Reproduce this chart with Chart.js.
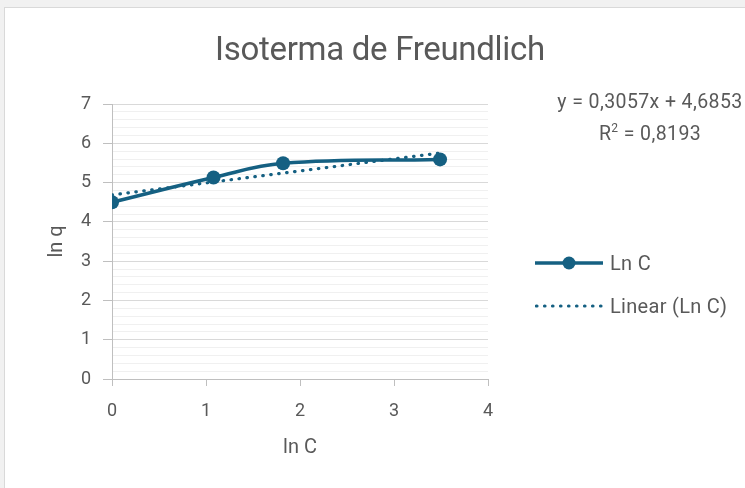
<!DOCTYPE html>
<html>
<head>
<meta charset="utf-8">
<script src="https://cdn.jsdelivr.net/npm/chart.js@4.4.1/dist/chart.umd.min.js"></script>
<style>
    body { margin: 0; background: #f1f1f1; width: 745px; height: 488px; overflow: hidden; position: relative; font-family: "Roboto", sans-serif; color: #595959; }
    #box { position: absolute; left: 4px; top: 7px; width: 760px; height: 500px; background: #fff; border: 1px solid #d9d9d9; }
    #wrap { position: absolute; left: 0; top: 0; width: 745px; height: 488px; }
    .txt { position: absolute; white-space: nowrap; }
    #title { left: 0; width: 760px; top: 29px; text-align: center; font-size: 33px; letter-spacing: -0.3px; }
    #eq { left: 550px; width: 200px; top: 88px; font-size: 19.5px; text-align: center; line-height: 27px; letter-spacing: 0.4px; }
    .leg { position: absolute; left: 535px; width: 210px; height: 24px; font-size: 20px; white-space: nowrap; }
    .leg svg { position: absolute; left: 0; top: 0; }
    .leg span { position: absolute; left: 75px; top: 0; line-height: 24px; letter-spacing: 0.3px; }
</style>
</head>
<body>
<div id="box"></div>
<div id="wrap"><canvas id="freundlich" width="745" height="488"></canvas></div>
<div class="txt" id="title">Isoterma de Freundlich</div>
<div class="txt" id="eq">y = 0,3057x + 4,6853<br>R<sup style="font-size:12px">2</sup> = 0,8193</div>
<div class="leg" style="top:251px">
    <svg width="70" height="24"><line x1="0" y1="12" x2="68" y2="12" stroke="#156082" stroke-width="3.5"/><circle cx="34" cy="12" r="6.5" fill="#156082"/></svg>
    <span>Ln C</span>
</div>
<div class="leg" style="top:294px">
    <svg width="70" height="24"><line x1="1.5" y1="12" x2="68" y2="12" stroke="#156082" stroke-width="3.2" stroke-linecap="round" stroke-dasharray="0.5 7.5"/></svg>
    <span>Linear (Ln C)</span>
</div>
<script>
    var lnC = [0, 1.08, 1.82, 3.49];
    var lnQ = [4.50, 5.13, 5.49, 5.59];
    var trendX = [0, 3.49];
    var trendY = [4.685, 5.752];
    var xTicks = [0, 1, 2, 3, 4];
    var yMax = 7;

    var blue = '#156082';
    var gray = '#595959';
    var tickFont = { family: 'Roboto', size: 18 };

    function isWhole(v) {
        return Math.abs(v - Math.round(v)) < 1e-6;
    }

    var points = lnC.map(function (x, i) { return { x: x, y: lnQ[i] }; });
    var trend = trendX.map(function (x, i) { return { x: x, y: trendY[i] }; });

    new Chart(document.getElementById('freundlich'), {
        type: 'scatter',
        data: {
            datasets: [{
                label: 'Ln C',
                data: points,
                showLine: true,
                tension: 0.4,
                borderColor: blue,
                backgroundColor: blue,
                borderWidth: 3.5,
                pointRadius: 7,
                pointBackgroundColor: blue,
                pointBorderWidth: 0,
                order: 1
            }, {
                label: 'Linear (Ln C)',
                data: trend,
                showLine: true,
                borderColor: blue,
                borderWidth: 3.2,
                borderDash: [0.5, 7.5],
                borderCapStyle: 'round',
                pointRadius: 0,
                order: 0
            }]
        },
        options: {
            responsive: false,
            animation: false,
            layout: { padding: { top: 104, right: 257, left: 0, bottom: 0 } },
            plugins: {
                legend: { display: false },
                tooltip: { enabled: false }
            },
            scales: {
                x: {
                    type: 'linear',
                    min: 0,
                    max: 4,
                    afterFit: function (scale) { scale.height = 109; },
                    afterBuildTicks: function (scale) {
                        scale.ticks = xTicks.map(function (v) { return { value: v }; });
                    },
                    ticks: { color: gray, font: tickFont, padding: 15 },
                    grid: { drawOnChartArea: false, color: '#bfbfbf', tickLength: 7, tickColor: '#bfbfbf' },
                    border: { color: '#bfbfbf', width: 1 },
                    title: {
                        display: true,
                        text: 'ln C',
                        color: gray,
                        font: { family: 'Roboto', size: 20 },
                        padding: { bottom: 28 }
                    }
                },
                y: {
                    type: 'linear',
                    min: 0,
                    max: yMax,
                    afterFit: function (scale) { scale.width = 112; },
                    ticks: {
                        stepSize: 0.2,
                        autoSkip: false,
                        color: gray,
                        font: tickFont,
                        padding: 12,
                        callback: function (v) { return isWhole(v) ? Math.round(v) : ''; }
                    },
                    grid: {
                        tickLength: 9,
                        color: function (ctx) {
                            return ctx.tick && isWhole(ctx.tick.value) ? '#d9d9d9' : '#f0f0f0';
                        },
                        tickColor: function (ctx) {
                            return ctx.tick && isWhole(ctx.tick.value) ? '#bfbfbf' : 'rgba(0,0,0,0)';
                        }
                    },
                    border: { color: '#bfbfbf', width: 1 },
                    title: {
                        display: true,
                        text: 'ln q',
                        color: gray,
                        font: { family: 'Roboto', size: 20 },
                        padding: { top: 45 }
                    }
                }
            }
        }
    });
</script>
</body>
</html>
